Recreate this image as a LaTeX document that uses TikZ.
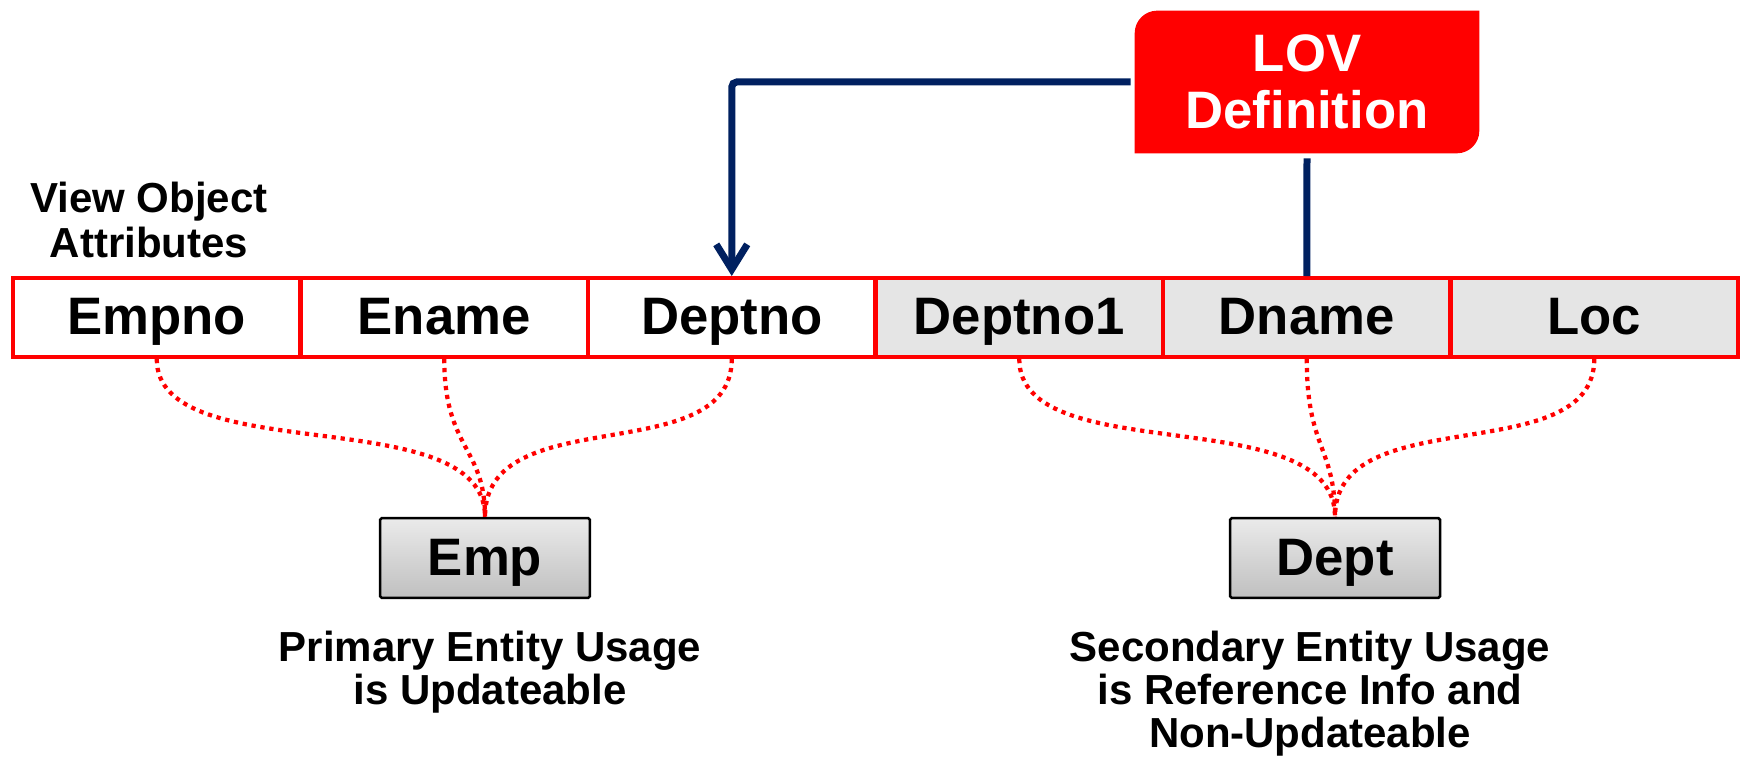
\documentclass[tikz,border=0pt]{standalone}
\usepackage{fontspec}
\setmainfont{Liberation Sans}
\usepackage{tikz}
\usetikzlibrary{arrows.meta,backgrounds}
\definecolor{lovblue}{RGB}{0,32,96}
\def\attrwidth{5.75cm}
\tikzset{
	every node/.style={
		font=\bfseries\fontsize{30}{32}\selectfont
	},
	attr/.style={
		shape=rectangle,
		minimum width=\attrwidth,
		minimum height=1.58cm,
		inner sep=0pt,
		text height=0.76cm,
		text depth=0.06cm,
		draw=red,
		line width=0.08cm,
		fill=white
	},
	entity/.style={
		shape=rectangle,
		minimum width=4.2cm,
		minimum height=1.6cm,
		inner sep=0pt,
		text height=0.76cm,
		text depth=0.06cm,
		draw=black,
		line width=0.05cm,
		rounded corners=1pt,
		top color=gray!16,
		bottom color=gray!50
	},
	usage/.style={
		font=\bfseries\fontsize{23.9}{24.4}\selectfont,
		align=center,
		inner sep=0pt,
		anchor=north
	},
	link/.style={red, line width=0.085cm, dash pattern=on 0.085cm off 0.095cm},
	lovlink/.style={lovblue, line width=0.14cm, rounded corners=0.1cm},
}

\begin{document}
\begin{tikzpicture}
	[x=0.02cm, y=-0.02cm]
	\tikzstyle{lov}=[shape=rectangle, minimum width=6.88cm, minimum height=2.84cm, inner sep=0pt, text=white, align=center, font=\bfseries\fontsize{30}{32.4}\selectfont]
	\useasboundingbox (0,0) rectangle (1740,759);
	
	\node[usage, font=\bfseries\fontsize{23.9}{25.5}\selectfont] (voa) at (149,182) {View Object\\Attributes};
	
	\foreach \name/\i in {Empno/1,Ename/2,Deptno/3}
	\node[attr] (A-\i) at ({13+287.5*\i-143.75},317.5) {\name};
	
	\foreach \name/\i in {Deptno1/4,Dname/5,Loc/6}
	\node[attr, fill=gray!20] (A-\i) at ({13+287.5*\i-143.75},317.5) {\name};
	
	\node[entity] (Emp) at (485,558) {Emp};
	\node[entity] (Dept) at (1335,558) {Dept};
	
	\node[usage] (U-1) at (490,631) {Primary Entity Usage\\is Updateable};
	\node[usage] (U-2) at (1310,631) {Secondary Entity Usage\\is Reference Info and\\Non-Updateable};
	
	\node[lov] (LOV) at (1307,82) {LOV\\Definition};
	\begin{scope}[on background layer]
	\fill[red] (LOV.north east) -- ([yshift=0.45cm]LOV.south east) arc[start angle=0, end angle=-90, radius=0.45cm] -- (LOV.south west) -- ([yshift=-0.45cm]LOV.north west) arc[start angle=180, end angle=90, radius=0.45cm] -- cycle;
	\end{scope}
	
	\draw[lovlink, shorten <=0.08cm, -{Straight Barb[length=0.5cm, width=0.62cm]}] (LOV.west) -| (A-3.north);
	\draw[lovlink, shorten <=0.1cm] (LOV.south) -- (A-5.north);
	
	\foreach \i in {1,3}
	\draw[link] (A-\i.south) .. controls +(0,112) and +(0,-118) .. (Emp.north);
	\draw[link] (A-2.south) .. controls +(0,90) and +(0,-70) .. (Emp.north);
	
	\foreach \i in {4,6}
	\draw[link] (A-\i.south) .. controls +(0,112) and +(0,-118) .. (Dept.north);
	\draw[link] (A-5.south) .. controls +(0,90) and +(0,-70) .. (Dept.north);
\end{tikzpicture}
\end{document}
